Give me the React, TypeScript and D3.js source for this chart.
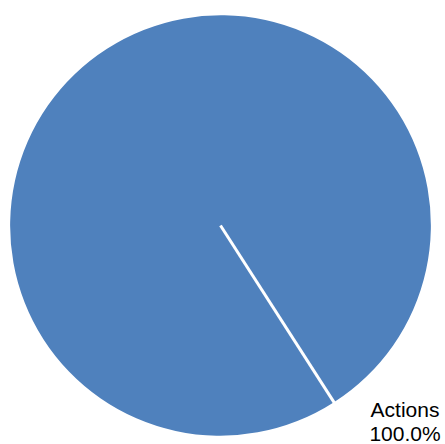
import React from "react";
import * as d3 from "d3";

const categories = ["Actions"];
const values = [100];

export default function App() {
  const width = 445;
  const height = 444;
  const cx = 220.5;
  const cy = 225.5;
  const r = 210;
  const start = (147.3 * Math.PI) / 180;
  const pie = d3
    .pie<number>()
    .sort(null)
    .startAngle(start)
    .endAngle(start + 2 * Math.PI);
  const arcs = pie(values);
  const arc = d3.arc<d3.PieArcDatum<number>>().innerRadius(0).outerRadius(r);
  const total = d3.sum(values);
  const fmt = d3.format(".1%");
  return (
    <svg
      width={width}
      height={height}
      style={{ position: "absolute", left: 0, top: 0 }}
    >
      <rect width={width} height={height} fill="#ffffff" />
      <g transform={`translate(${cx},${cy})`}>
        {arcs.map((a, i) => {
          const ang = a.startAngle;
          return (
            <g key={i}>
              <path d={arc(a) || ""} fill="#4F81BD" />
              <line
                x1={0}
                y1={0}
                x2={Math.sin(ang) * (r + 2)}
                y2={-Math.cos(ang) * (r + 2)}
                stroke="#ffffff"
                strokeWidth={3}
              />
            </g>
          );
        })}
      </g>
      {arcs.map((a, i) => (
        <text
          key={i}
          x={405}
          y={417}
          textAnchor="middle"
          fontFamily="'Liberation Sans', Arial, sans-serif"
          fontSize={21}
          fill="#000000"
        >
          <tspan x={405}>{categories[i]}</tspan>
          <tspan x={405} dy={24}>
            {fmt(a.data / total)}
          </tspan>
        </text>
      ))}
    </svg>
  );
}
